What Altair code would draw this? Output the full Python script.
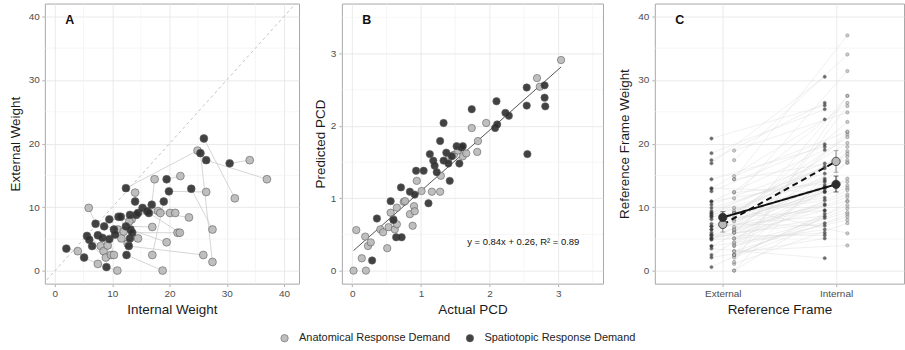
import altair as alt
import pandas as pd

FONT = "Liberation Sans"

# ---------------- data ----------------
group_names = ["Anatomical Response Demand", "Spatiotopic Response Demand"]
group_fill = ["#b9b9b9", "#2e2e2e"]

# Panel A / C: weights per participant (same participant order in every list)
spat_internal = [2.0, 5.1, 5.6, 6.0, 6.5, 7.1, 7.5, 8.3, 8.6, 9.0, 9.5, 9.5, 10.3, 10.5, 11.1, 11.5, 12.4, 12.4, 12.5, 12.9,
                 13.1, 13.2, 13.1, 13.5, 14.0, 14.2, 14.5, 15.3, 16.1, 16.4, 16.9, 19.0, 19.5, 19.9, 23.8, 25.4, 26.0, 26.4, 30.5]
spat_external = [3.5, 2.1, 5.5, 4.9, 3.9, 7.4, 5.6, 5.2, 7.0, 0.6, 8.1, 5.0, 6.5, 5.7, 8.5, 8.5, 13.0, 7.0, 2.5, 3.9,
                 5.1, 6.5, 8.8, 6.0, 10.9, 8.8, 9.1, 9.9, 9.4, 9.1, 10.4, 10.9, 14.4, 12.5, 12.9, 18.5, 20.8, 17.4, 16.9]
anat_internal = [4.0, 7.5, 8.0, 8.5, 8.9, 5.9, 9.2, 9.8, 11.0, 10.9, 13.4, 10.3, 11.6, 12.0, 13.0, 12.7, 24.9, 17.0, 18.8, 25.9,
                 14.5, 19.5, 18.0, 21.4, 14.0, 18.4, 20.1, 21.0, 23.4, 21.8, 17.4, 17.0, 21.9, 26.4, 27.5, 27.5, 31.4, 37.0, 34.0]
anat_external = [3.1, 1.1, 3.9, 3.1, 2.1, 9.9, 4.0, 2.5, 6.5, 0.05, 8.1, 2.5, 5.1, 6.2, 7.8, 4.3, 18.9, 6.9, 0.05, 2.5,
                 5.1, 4.5, 9.4, 6.0, 12.3, 9.1, 9.1, 9.1, 8.4, 6.0, 14.4, 2.5, 14.9, 12.4, 6.5, 1.4, 11.4, 14.4, 17.4]

# Panel B: actual vs predicted PCD
anat_actual = [0.02, 0.20, 0.06, 0.14, 0.19, 0.23, 0.27, 0.41, 0.45, 0.51, 0.53, 0.56, 0.60, 0.62, 0.65, 0.65, 0.75, 0.77, 0.84, 0.88,
               0.90, 0.91, 0.94, 1.01, 1.16, 1.28, 1.29, 1.40, 1.48, 1.54, 1.61, 1.66, 1.74, 1.82, 1.83, 1.95, 2.69, 2.73, 3.04]
anat_pred = [0.00, 0.00, 0.56, 0.17, 0.47, 0.34, 0.39, 0.57, 0.53, 0.31, 0.60, 0.80, 0.71, 0.57, 0.64, 0.87, 0.95, 0.96, 0.78, 0.62,
             0.89, 0.82, 1.24, 1.10, 1.09, 1.09, 1.31, 1.54, 1.60, 1.66, 1.58, 1.62, 1.97, 1.64, 1.79, 2.04, 2.66, 2.54, 2.91]
spat_actual = [0.29, 0.36, 0.56, 0.60, 0.64, 0.72, 0.71, 0.84, 0.91, 0.93, 1.04, 1.11, 1.13, 1.18, 1.20, 1.23, 1.28, 1.33, 1.33, 1.37,
               1.40, 1.42, 1.45, 1.52, 1.56, 1.59, 1.61, 1.74, 2.08, 2.10, 2.11, 2.23, 2.28, 2.54, 2.54, 2.55, 2.80, 2.80, 2.81]
spat_pred = [0.14, 0.72, 0.96, 0.70, 0.46, 0.46, 1.15, 1.09, 1.05, 1.38, 1.38, 0.93, 1.61, 1.52, 1.45, 1.36, 1.79, 2.04, 1.52, 1.63,
             1.48, 1.24, 1.58, 1.72, 1.48, 1.70, 1.72, 2.23, 1.97, 2.34, 2.02, 2.18, 2.14, 2.53, 2.28, 1.61, 2.56, 2.39, 2.27]
fit_slope = 0.84
fit_intercept = 0.26
fit_label = "y = 0.84x + 0.26, R\u00b2 = 0.89"

# Panel C: group means with error bars (External, Internal)
frame_names = ["External", "Internal"]
anat_mean = [7.3, 17.2]
anat_lo = [6.1, 15.5]
anat_hi = [8.4, 18.9]
spat_mean = [8.4, 13.6]
spat_lo = [7.5, 12.4]
spat_hi = [9.3, 14.9]

weight_ticks = [0, 10, 20, 30, 40]
pcd_ticks = [0, 1, 2, 3]

# ---------------- styling ----------------
GRID = "#e4e4e4"
MINOR = "#f0f0f0"
TICK = "#b3b3b3"
PT_STROKE = "#505050"
H = 281
WA, WB, WC = 255, 262, 250

xA_dom = [-1.75, 42.6]
yA_dom = [-2.0, 42.0]
xB_dom = [-0.15, 3.65]
yB_dom = [-0.18, 3.69]
xC_dom = [0.4, 2.6]
dodge = 0.1


def minor_of(ticks, dom):
    step = ticks[1] - ticks[0]
    vals = [t + step / 2 for t in ticks] + [ticks[0] - step / 2]
    return [v for v in vals if dom[0] < v < dom[1]]


def ax(values, title, lp, tp, label_expr=None):
    kw = dict(values=values, title=title, grid=True, gridColor=GRID, gridWidth=0.8,
              domain=False, ticks=True, tickColor=TICK, tickSize=3,
              labelPadding=lp, titlePadding=tp)
    if label_expr is not None:
        kw["labelExpr"] = label_expr
    return alt.Axis(**kw)


fill_enc = alt.Fill(
    "group:N",
    scale=alt.Scale(domain=group_names, range=group_fill),
    legend=alt.Legend(title=None, orient="none", direction="horizontal",
                      legendX=235, legendY=330, symbolType="circle", symbolSize=55,
                      symbolStrokeColor=PT_STROKE, symbolStrokeWidth=0.6,
                      labelFontSize=11, labelColor="#222222", labelFont=FONT,
                      columnPadding=14, labelOffset=9, padding=0),
)


def X(field, scale, axis):
    return alt.X(field, scale=scale, axis=axis)


def Y(field, scale, axis):
    return alt.Y(field, scale=scale, axis=axis)


def vgrid(vals, scale, axis):
    return alt.Chart(pd.DataFrame({"v": vals})).mark_rule(color=MINOR, strokeWidth=0.6).encode(
        x=X("v:Q", scale, axis))


def hgrid(vals, scale, axis):
    return alt.Chart(pd.DataFrame({"v": vals})).mark_rule(color=MINOR, strokeWidth=0.6).encode(
        y=Y("v:Q", scale, axis))


def panel_label(txt):
    return alt.Chart(pd.DataFrame({"t": [txt]})).mark_text(
        font=FONT, fontSize=12.5, fontWeight="bold", color="#111111", align="center", baseline="middle"
    ).encode(x=alt.value(25), y=alt.value(16.5), text="t:N")


# ---------------- Panel A ----------------
n = len(spat_internal)
dfA = pd.DataFrame({
    "group": [group_names[0]] * n + [group_names[1]] * n,
    "internal": anat_internal + spat_internal,
    "external": anat_external + spat_external,
})
pairs = pd.DataFrame({"x1": spat_internal, "y1": spat_external, "x2": anat_internal, "y2": anat_external})
xA = alt.Scale(domain=xA_dom, nice=False, zero=False)
yA = alt.Scale(domain=yA_dom, nice=False, zero=False)
axA_x = ax(weight_ticks, "Internal Weight", 2, 4)
axA_y = ax(weight_ticks, "External Weight", 2.5, 6)

a_minor_x = vgrid(minor_of(weight_ticks, xA_dom), xA, axA_x)
a_minor_y = hgrid(minor_of(weight_ticks, yA_dom), yA, axA_y)
a_diag = alt.Chart(pd.DataFrame({"d": [yA_dom[0] - 5, yA_dom[1] + 5]})).mark_line(
    color="#c4c4c4", strokeDash=[3, 3], strokeWidth=1, clip=True
).encode(x=X("d:Q", xA, axA_x), y=Y("d:Q", yA, axA_y))
a_pairs = alt.Chart(pairs).mark_rule(color="#cccccc", strokeWidth=0.8).encode(
    x=X("x1:Q", xA, axA_x), y=Y("y1:Q", yA, axA_y), x2="x2:Q", y2="y2:Q",
)
a_pts = alt.Chart(dfA).mark_point(filled=True, size=62, stroke=PT_STROKE, strokeWidth=0.6, opacity=0.9).encode(
    x=X("internal:Q", xA, axA_x), y=Y("external:Q", yA, axA_y), fill=fill_enc,
)
panelA = alt.layer(a_minor_x, a_minor_y, a_diag, a_pairs, a_pts, panel_label("A")).properties(width=WA, height=H)

# ---------------- Panel B ----------------
dfB = pd.DataFrame({
    "group": [group_names[0]] * len(anat_actual) + [group_names[1]] * len(spat_actual),
    "actual": anat_actual + spat_actual,
    "pred": anat_pred + spat_pred,
})
lo_x = min(anat_actual + spat_actual)
hi_x = max(anat_actual + spat_actual)
fit_df = pd.DataFrame({"actual": [lo_x, hi_x]})
fit_df["pred"] = fit_slope * fit_df["actual"] + fit_intercept
xB = alt.Scale(domain=xB_dom, nice=False, zero=False)
yB = alt.Scale(domain=yB_dom, nice=False, zero=False)
axB_x = ax(pcd_ticks, "Actual PCD", 2, 4)
axB_y = ax(pcd_ticks, "Predicted PCD", 3, 3)

b_minor_x = vgrid(minor_of(pcd_ticks, xB_dom), xB, axB_x)
b_minor_y = hgrid(minor_of(pcd_ticks, yB_dom), yB, axB_y)
b_fit = alt.Chart(fit_df).mark_line(color="#555555", strokeWidth=1).encode(
    x=X("actual:Q", xB, axB_x), y=Y("pred:Q", yB, axB_y),
)
b_pts = alt.Chart(dfB).mark_point(filled=True, size=55, stroke=PT_STROKE, strokeWidth=0.6, opacity=0.9).encode(
    x=X("actual:Q", xB, axB_x), y=Y("pred:Q", yB, axB_y), fill=fill_enc,
)
b_text = alt.Chart(pd.DataFrame({"t": [fit_label]})).mark_text(
    font=FONT, fontSize=9.5, color="#111111", align="center", baseline="middle"
).encode(x=alt.value(182), y=alt.value(239), text="t:N")
panelB = alt.layer(b_minor_x, b_minor_y, b_fit, b_pts, b_text, panel_label("B")).properties(width=WB, height=H)

# ---------------- Panel C ----------------
offsets = {group_names[0]: dodge, group_names[1]: -dodge}
c_lines, c_pts = [], []
for g, ext_vals, int_vals in [(group_names[0], anat_external, anat_internal),
                              (group_names[1], spat_external, spat_internal)]:
    off = offsets[g]
    for e, i in zip(ext_vals, int_vals):
        c_lines.append({"x1": 1 + off, "y1": e, "x2": 2 + off, "y2": i})
        c_pts.append({"group": g, "x": 1 + off, "y": e})
        c_pts.append({"group": g, "x": 2 + off, "y": i})
c_lines = pd.DataFrame(c_lines)
c_pts = pd.DataFrame(c_pts)
means = pd.DataFrame({
    "group": [group_names[0]] * 2 + [group_names[1]] * 2,
    "x": [1, 2, 1, 2],
    "mean": anat_mean + spat_mean,
    "lo": anat_lo + spat_lo,
    "hi": anat_hi + spat_hi,
})
xC = alt.Scale(domain=xC_dom, nice=False, zero=False)
yC = alt.Scale(domain=yA_dom, nice=False, zero=False)
lab_expr = "datum.value == 1 ? '%s' : '%s'" % (frame_names[0], frame_names[1])
axC_x = ax([1, 2], "Reference Frame", 2, 4, lab_expr)
axC_y = ax(weight_ticks, "Reference Frame Weight", 3, 6.5)

c_minor_y = hgrid(minor_of(weight_ticks, yA_dom), yC, axC_y)
c_lines_l = alt.Chart(c_lines).mark_rule(color="#d9d9d9", strokeWidth=0.6, opacity=0.65).encode(
    x=X("x1:Q", xC, axC_x), y=Y("y1:Q", yC, axC_y), x2="x2:Q", y2="y2:Q",
)
c_pts_l = alt.Chart(c_pts).mark_point(filled=True, size=11, stroke=PT_STROKE, strokeWidth=0.5).encode(
    x=X("x:Q", xC, axC_x), y=Y("y:Q", yC, axC_y), fill=fill_enc,
)
layers_c = [c_minor_y, c_lines_l, c_pts_l]
bar_colors = {group_names[0]: "#8a8a8a", group_names[1]: "#2e2e2e"}
dashes = {group_names[0]: [6, 4], group_names[1]: [1, 0]}
for g in group_names:
    sub = means[means["group"] == g]
    layers_c.append(alt.Chart(sub).mark_line(color="#111111", strokeWidth=2, strokeDash=dashes[g]).encode(
        x=X("x:Q", xC, axC_x), y=Y("mean:Q", yC, axC_y)))
for g in group_names:
    sub = means[means["group"] == g]
    col = bar_colors[g]
    layers_c.append(alt.Chart(sub).mark_rule(color=col, strokeWidth=1).encode(
        x=X("x:Q", xC, axC_x), y=Y("lo:Q", yC, axC_y), y2="hi:Q"))
    for f in ["lo", "hi"]:
        layers_c.append(alt.Chart(sub).mark_tick(color=col, orient="horizontal", size=5, thickness=1).encode(
            x=X("x:Q", xC, axC_x), y=Y(f + ":Q", yC, axC_y)))
layers_c.append(alt.Chart(means).mark_point(filled=True, size=70, stroke="#333333", strokeWidth=0.8, opacity=1).encode(
    x=X("x:Q", xC, axC_x), y=Y("mean:Q", yC, axC_y), fill=fill_enc))
layers_c.append(panel_label("C"))
panelC = alt.layer(*layers_c).properties(width=WC, height=H)

chart = alt.hconcat(panelA, panelB, panelC, spacing=12).properties(
    padding={"left": 7, "top": 2, "right": 0, "bottom": 0}
).configure_view(stroke="#a8a8a8", strokeWidth=1).configure_axis(
    labelFont=FONT, titleFont=FONT, labelFontSize=10, titleFontSize=13.5,
    labelColor="#4d4d4d", titleColor="#1a1a1a", titleFontWeight="normal",
).configure_legend(labelFont=FONT)

chart.save("out.html", embed_options={"renderer": "svg", "actions": False})
